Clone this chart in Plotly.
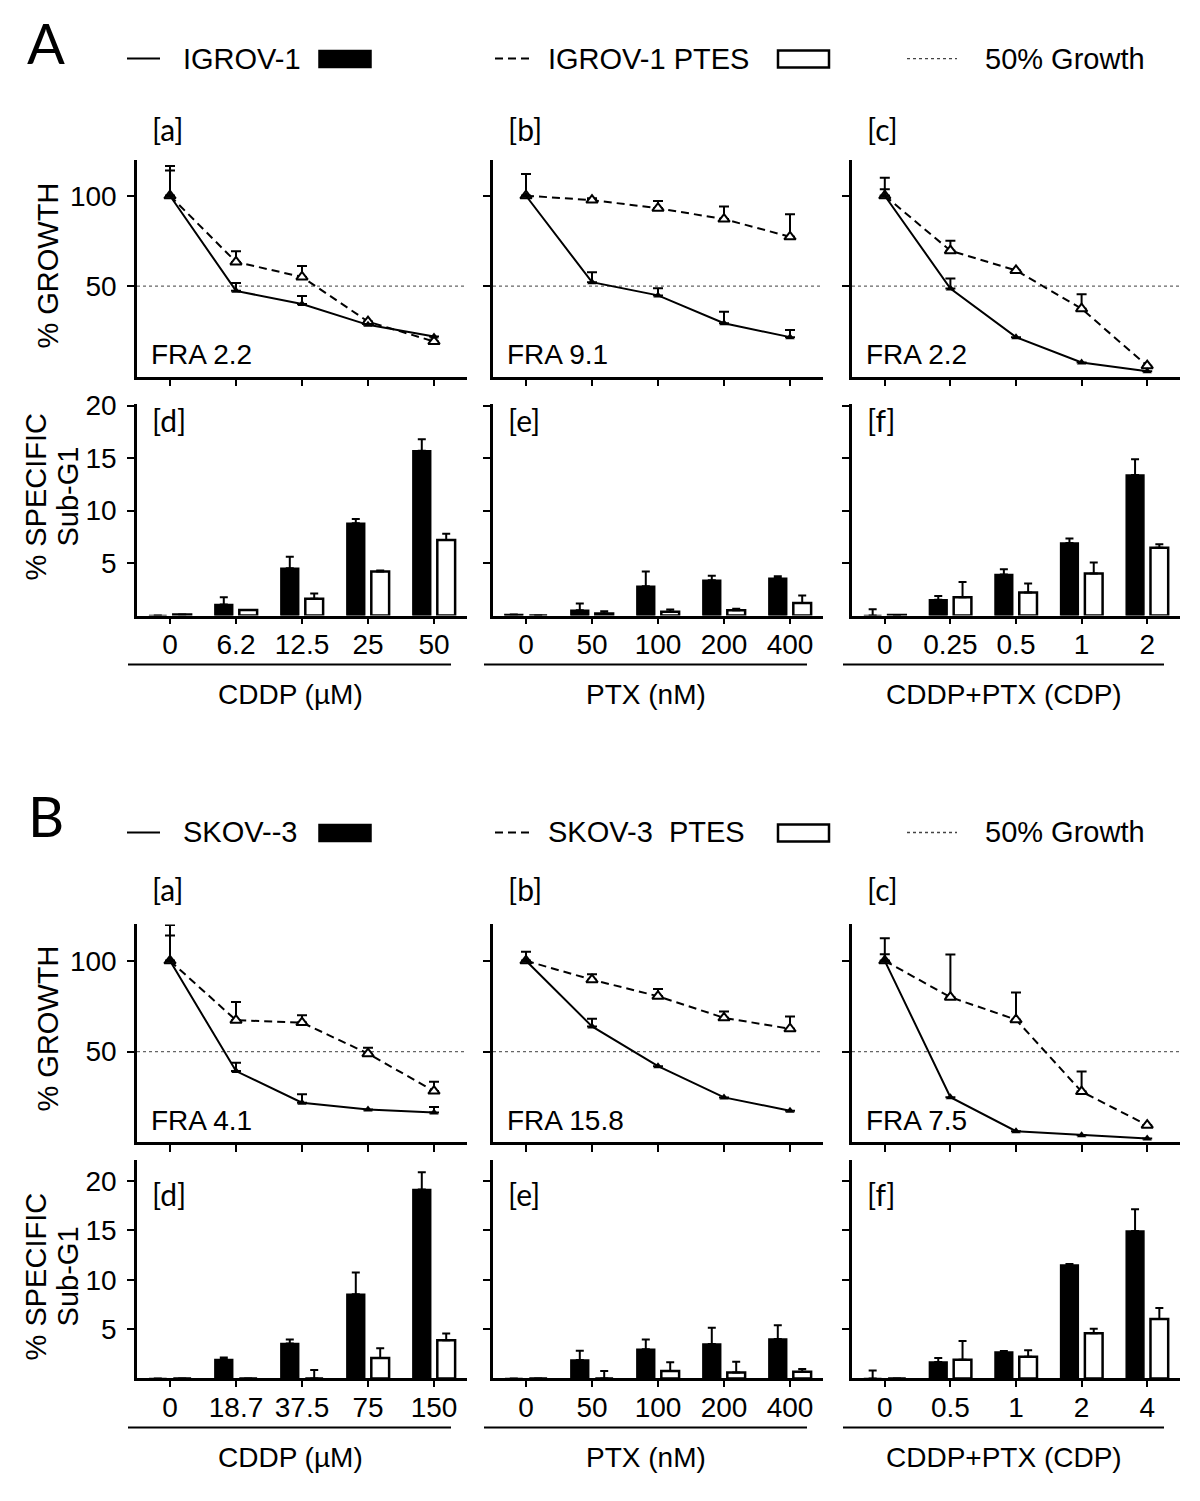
import plotly.graph_objects as go
from plotly.subplots import make_subplots

W, H = 1200, 1501

# dose labels
CDDP_A = ["0", "6.2", "12.5", "25", "50"]
CDDP_B = ["0", "18.7", "37.5", "75", "150"]
PTX_DOSES = ["0", "50", "100", "200", "400"]
CDP_A = ["0", "0.25", "0.5", "1", "2"]
CDP_B = ["0", "0.5", "1", "2", "4"]
DRUG_TITLES = ["CDDP (\u00b5M)", "PTX (nM)", "CDDP+PTX (CDP)"]
FRA_A = ["FRA 2.2", "FRA 9.1", "FRA 2.2"]
FRA_B = ["FRA 4.1", "FRA 15.8", "FRA 7.5"]
HALF_GROWTH = 50

# % growth, one row per drug: CDDP, PTX, CDP (upper error only)
IGROV1_GROWTH = [[100, 47.4, 40.1, 28.6, 22.2], [100, 52.2, 44.9, 29.5, 21.8], [100, 48.7, 21.8, 7.8, 2.9]]
IGROV1_GROWTH_ERR = [[14, 4.4, 4.4, 0, 0], [0, 5.5, 4, 6.4, 4], [3.6, 5.5, 0, 0, 0]]
IGROV1_PTES_GROWTH = [[100, 63.4, 55.1, 30.4, 19.4], [100, 97.6, 93.1, 87.1, 77.3], [100, 69.6, 58.7, 37.5, 6]]
IGROV1_PTES_GROWTH_ERR = [[16.5, 5.9, 6, 0, 0], [12, 1, 4, 7, 12.5], [10, 5.5, 0, 8, 0]]

SKOV3_GROWTH = [[100, 39.3, 21.9, 18.2, 16.5], [100, 63.9, 42, 24.8, 17.5], [100, 24.9, 6.2, 4, 2.2]]
SKOV3_GROWTH_ERR = [[14, 4.6, 4.6, 0, 3], [0, 4.2, 0, 0, 0], [3.6, 0, 0, 0, 0]]
SKOV3_PTES_GROWTH = [[100, 67.3, 66, 48.9, 28.3], [100, 89.6, 80.5, 68.6, 62.6], [100, 80, 67.6, 28, 9.5]]
SKOV3_PTES_GROWTH_ERR = [[19.7, 10, 4, 3.3, 5.1], [5, 3, 4, 3.5, 6.8], [12.4, 23.5, 15, 11, 0]]

# % specific sub-G1
IGROV1_SUBG1 = [[0, 1.04, 4.5, 8.8, 15.7], [0.1, 0.5, 2.8, 3.35, 3.55], [0, 1.5, 3.9, 6.9, 13.4]]
IGROV1_SUBG1_ERR = [[0, 0.7, 1.1, 0.4, 1.1], [0, 0.65, 1.4, 0.45, 0.2], [0.6, 0.35, 0.5, 0.45, 1.5]]
IGROV1_PTES_SUBG1 = [[0.1, 0.53, 1.6, 4.2, 7.2], [0, 0.2, 0.37, 0.5, 1.2], [0.05, 1.75, 2.2, 4.0, 6.45]]
IGROV1_PTES_SUBG1_ERR = [[0, 0, 0.5, 0.1, 0.6], [0, 0.2, 0.2, 0.15, 0.7], [0, 1.45, 0.85, 1.05, 0.35]]

SKOV3_SUBG1 = [[0, 1.92, 3.54, 8.53, 19.16], [0, 1.86, 2.95, 3.5, 4.0], [0, 1.66, 2.68, 11.5, 14.95]]
SKOV3_SUBG1_ERR = [[0, 0.2, 0.4, 2.2, 1.75], [0, 0.95, 1.0, 1.65, 1.4], [0.8, 0.4, 0.1, 0.1, 2.2]]
SKOV3_PTES_SUBG1 = [[0, 0, 0, 2.06, 3.88], [0, 0, 0.75, 0.6, 0.68], [0, 1.9, 2.2, 4.58, 6.03]]
SKOV3_PTES_SUBG1_ERR = [[0, 0, 0.85, 1.0, 0.67], [0, 0.75, 0.9, 1.1, 0.27], [0, 1.9, 0.65, 0.45, 1.1]]

SANS = "Liberation Sans, Arial, sans-serif"
CAL = "Lato, Open Sans, sans-serif"

# pixel layout (columns shared, rows per panel)
COL_PX = [(137, 467), (493, 823), (852, 1180)]
PANELS = [
    dict(letter="A", cell="IGROV-1", ptes="IGROV-1 PTES", doses=[CDDP_A, PTX_DOSES, CDP_A], fra=FRA_A,
         growth=IGROV1_GROWTH, growth_err=IGROV1_GROWTH_ERR,
         ptes_growth=IGROV1_PTES_GROWTH, ptes_growth_err=IGROV1_PTES_GROWTH_ERR,
         subg1=IGROV1_SUBG1, subg1_err=IGROV1_SUBG1_ERR,
         ptes_subg1=IGROV1_PTES_SUBG1, ptes_subg1_err=IGROV1_PTES_SUBG1_ERR,
         bar_top=20.2, letter_y=42, legend_y=58, sub_y=128, line_px=(159, 376), bar_px=(403, 615),
         tag_y=419, ylab_y=(265, 496), dy=0),
    dict(letter="B", cell="SKOV--3", ptes="SKOV-3  PTES", doses=[CDDP_B, PTX_DOSES, CDP_B], fra=FRA_B,
         growth=SKOV3_GROWTH, growth_err=SKOV3_GROWTH_ERR,
         ptes_growth=SKOV3_PTES_GROWTH, ptes_growth_err=SKOV3_PTES_GROWTH_ERR,
         subg1=SKOV3_SUBG1, subg1_err=SKOV3_SUBG1_ERR,
         ptes_subg1=SKOV3_PTES_SUBG1, ptes_subg1_err=SKOV3_PTES_SUBG1_ERR,
         bar_top=22.1, letter_y=815, legend_y=832, sub_y=889, line_px=(924, 1142), bar_px=(1160, 1378),
         tag_y=1194, ylab_y=(1028, 1276), dy=763),
]


def fx(x):
    return x / W


def fy(y):
    # slight vertical stretch so the rendered rows line up with the reference
    y = 1.0086 * y - 12.5
    return 1 - y / H


fig = make_subplots(rows=4, cols=3)
shapes = []
annotations = []

axis_style = dict(showline=True, linecolor="black", linewidth=2.5, showgrid=False, zeroline=False,
                  ticks="outside", ticklen=7, tickwidth=2, tickcolor="black",
                  tickfont=dict(family=SANS, size=28, color="black"))

for p, panel in enumerate(PANELS):
    line_row, bar_row = 2 * p + 1, 2 * p + 2
    dy = panel["dy"]
    lt, lb = panel["line_px"]
    bt, bb = panel["bar_px"]
    for c in range(3):
        col = c + 1
        doses = panel["doses"][c]
        x0, x1 = COL_PX[c]

        # growth curves
        fig.add_trace(go.Scatter(
            x=doses, y=panel["ptes_growth"][c], mode="lines+markers",
            line=dict(color="black", width=2, dash="8px,5px"),
            marker=dict(symbol="triangle-up", size=10, color="white", line=dict(color="black", width=2)),
            error_y=dict(type="data", symmetric=False, array=panel["ptes_growth_err"][c],
                         arrayminus=[0] * 5, color="black", thickness=2, width=5),
            cliponaxis=False,
        ), row=line_row, col=col)
        fig.add_trace(go.Scatter(
            x=doses, y=panel["growth"][c], mode="lines+markers",
            line=dict(color="black", width=2),
            marker=dict(symbol="triangle-up", size=8, color="black"),
            error_y=dict(type="data", symmetric=False, array=panel["growth_err"][c],
                         arrayminus=[0] * 5, color="black", thickness=2, width=5),
            cliponaxis=False,
        ), row=line_row, col=col)

        # sub-G1 bars
        fig.add_trace(go.Bar(
            x=doses, y=panel["subg1"][c], width=0.27, offset=-0.32,
            marker=dict(color="black", line=dict(color="black", width=1.5)),
            error_y=dict(type="data", symmetric=False, array=panel["subg1_err"][c],
                         arrayminus=[0] * 5, color="black", thickness=2, width=4),
        ), row=bar_row, col=col)
        fig.add_trace(go.Bar(
            x=doses, y=panel["ptes_subg1"][c], width=0.27, offset=0.05,
            marker=dict(color="white", line=dict(color="black", width=2.5)),
            error_y=dict(type="data", symmetric=False, array=panel["ptes_subg1_err"][c],
                         arrayminus=[0] * 5, color="black", thickness=2, width=4),
        ), row=bar_row, col=col)

        fig.update_xaxes(axis_style, type="category", range=[-0.5, 4.5], showticklabels=False,
                         domain=[fx(x0), fx(x1)], row=line_row, col=col)
        fig.update_yaxes(axis_style, range=[0, 120], tickvals=[50, 100], showticklabels=(c == 0),
                         ticklabelstandoff=5, domain=[fy(lb), fy(lt)], row=line_row, col=col)
        fig.update_xaxes(axis_style, type="category", range=[-0.5, 4.5], ticklen=6,
                         ticklabelstandoff=-4, domain=[fx(x0), fx(x1)], row=bar_row, col=col)
        fig.update_yaxes(axis_style, range=[0, panel["bar_top"]], tickvals=[5, 10, 15, 20],
                         showticklabels=(c == 0), ticklabelstandoff=5,
                         domain=[fy(bb), fy(bt)], row=bar_row, col=col)

        # 50% growth reference
        k = (line_row - 1) * 3 + col
        suffix = "" if k == 1 else str(k)
        shapes.append(dict(type="line", xref=f"x{suffix} domain", yref=f"y{suffix}",
                           x0=0, x1=1, y0=HALF_GROWTH, y1=HALF_GROWTH,
                           line=dict(color="#666666", width=1.3, dash="dot"), layer="below"))

        # underline and drug title under bar chart
        shapes.append(dict(type="line", xref="paper", yref="paper", x0=fx(x0 - 9), x1=fx(x1 - 16),
                           y0=fy(664 + dy), y1=fy(664 + dy), line=dict(color="black", width=2)))
        annotations.append(dict(text=DRUG_TITLES[c], x=fx((x0 + x1) / 2 - 12), y=fy(694 + dy),
                                font=dict(family=SANS, size=28)))

        # sub-panel tags and FRA labels
        annotations.append(dict(text="[" + "abc"[c] + "]", x=fx(x0 + 13), y=fy(panel["sub_y"]),
                                xanchor="left", font=dict(family=CAL, size=30)))
        annotations.append(dict(text="[" + "def"[c] + "]", x=fx(x0 + 13), y=fy(panel["tag_y"]),
                                xanchor="left", font=dict(family=CAL, size=30)))
        annotations.append(dict(text=panel["fra"][c], x=fx(x0 + 12), y=fy(lb - 22),
                                xanchor="left", font=dict(family=SANS, size=28)))

    gy, sy = panel["ylab_y"]
    annotations.append(dict(text=panel["letter"], x=fx(46), y=fy(panel["letter_y"]),
                            font=dict(family=CAL, size=56)))
    annotations.append(dict(text="% GROWTH", x=fx(48), y=fy(gy), textangle=-90,
                            font=dict(family=SANS, size=29)))
    annotations.append(dict(text="% SPECIFIC", x=fx(36), y=fy(sy), textangle=-90,
                            font=dict(family=SANS, size=29)))
    annotations.append(dict(text="Sub-G1", x=fx(68), y=fy(sy), textangle=-90,
                            font=dict(family=SANS, size=29)))

    # legend row
    ly = panel["legend_y"]
    shapes.append(dict(type="line", xref="paper", yref="paper", x0=fx(127), x1=fx(160), y0=fy(ly), y1=fy(ly),
                       line=dict(color="black", width=2)))
    shapes.append(dict(type="rect", xref="paper", yref="paper", x0=fx(319), x1=fx(371), y0=fy(ly + 9),
                       y1=fy(ly - 8), fillcolor="black", line=dict(color="black", width=1.5)))
    shapes.append(dict(type="line", xref="paper", yref="paper", x0=fx(495), x1=fx(530), y0=fy(ly), y1=fy(ly),
                       line=dict(color="black", width=2, dash="8px,5px")))
    shapes.append(dict(type="rect", xref="paper", yref="paper", x0=fx(778), x1=fx(829), y0=fy(ly + 9),
                       y1=fy(ly - 8), fillcolor="white", line=dict(color="black", width=2.5)))
    shapes.append(dict(type="line", xref="paper", yref="paper", x0=fx(907), x1=fx(957), y0=fy(ly), y1=fy(ly),
                       line=dict(color="#444444", width=1.3, dash="dot")))
    for text, left in ((panel["cell"], 181), (panel["ptes"], 546), ("50% Growth", 983)):
        annotations.append(dict(text=text, x=fx(left), y=fy(ly), xanchor="left",
                                font=dict(family=SANS, size=29)))

for a in annotations:
    a.setdefault("xref", "paper")
    a.setdefault("yref", "paper")
    a.setdefault("showarrow", False)
    a.setdefault("xanchor", "center")
    a.setdefault("yanchor", "middle")
    a["font"]["color"] = "black"

fig.update_layout(
    width=W, height=H, autosize=False,
    margin=dict(l=0, r=0, t=0, b=0, pad=0),
    paper_bgcolor="white", plot_bgcolor="white",
    barmode="overlay", showlegend=False,
    shapes=shapes, annotations=annotations,
    font=dict(family=SANS, color="black"),
)

fig.write_html("out.html", config={"displayModeBar": False},
               post_script="document.body.style.margin = '0';")
